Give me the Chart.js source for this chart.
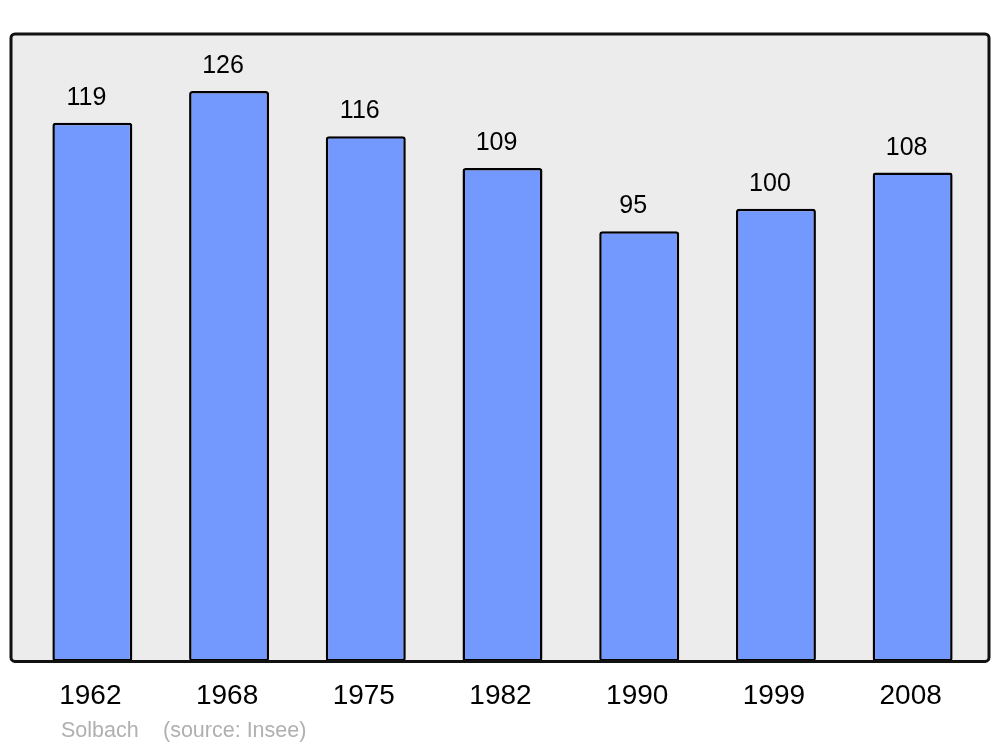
<!DOCTYPE html>
<html>
<head>
<meta charset="utf-8">
<script src="https://cdn.jsdelivr.net/npm/chart.js@4/dist/chart.umd.min.js"></script>
<style>
html,body{margin:0;padding:0;background:#fff;}
#wrap{width:1000px;height:747px;}
</style>
</head>
<body>
<div id="wrap"><canvas id="c" width="1000" height="747"></canvas></div>
<script>
const years = ["1962","1968","1975","1982","1990","1999","2008"];
const population = [119,126,116,109,95,100,108];
const footerAuthor = "Solbach";
const footerSource = "(source: Insee)";

const FONT = "'Liberation Sans', Arial, sans-serif";

const framePlugin = {
  id: 'frame',
  beforeDatasetsDraw(chart) {
    const {ctx, chartArea: a} = chart;
    ctx.save();
    ctx.beginPath();
    ctx.roundRect(a.left - 13, a.top, (a.right + 8) - (a.left - 13), a.bottom - a.top, 4);
    ctx.fillStyle = '#ececec';
    ctx.fill();
    ctx.restore();
  },
  afterDatasetsDraw(chart) {
    const {ctx, chartArea: a} = chart;
    ctx.save();
    ctx.beginPath();
    ctx.roundRect(a.left - 13, a.top, (a.right + 8) - (a.left - 13), a.bottom - a.top, 4);
    ctx.lineWidth = 3;
    ctx.strokeStyle = '#111';
    ctx.stroke();
    // value labels
    const meta = chart.getDatasetMeta(0);
    ctx.fillStyle = '#000';
    ctx.font = '25px ' + FONT;
    ctx.textAlign = 'center';
    ctx.textBaseline = 'alphabetic';
    meta.data.forEach((bar, i) => {
      ctx.fillText(String(population[i]), bar.x - 6, bar.y - 18);
    });
    // footer
    ctx.fillStyle = '#b0b0b0';
    ctx.font = '21.5px ' + FONT;
    ctx.textAlign = 'left';
    ctx.fillText(footerAuthor, a.left + 37, 737);
    ctx.fillText(footerSource, a.left + 139, 737);
    ctx.restore();
  }
};

new Chart(document.getElementById('c'), {
  type: 'bar',
  data: {
    labels: years,
    datasets: [{
      data: population,
      backgroundColor: '#7399ff',
      borderColor: '#000',
      borderWidth: 2.5,
      borderRadius: 3,
      borderSkipped: false,
      categoryPercentage: 1,
      barPercentage: 0.585
    }]
  },
  options: {
    responsive: false,
    animation: false,
    devicePixelRatio: 1,
    layout: { padding: { left: 24, right: 19, top: 34, bottom: 24 } },
    plugins: { legend: { display: false }, tooltip: { enabled: false }, title: { display: false } },
    scales: {
      x: {
        grid: { display: false },
        border: { display: false },
        ticks: { color: '#000', font: { family: FONT, size: 28 }, padding: 10, labelOffset: -2, maxRotation: 0 }
      },
      y: {
        display: false,
        min: 0,
        max: 138.6
      }
    }
  },
  plugins: [framePlugin]
});
</script>
</body>
</html>
